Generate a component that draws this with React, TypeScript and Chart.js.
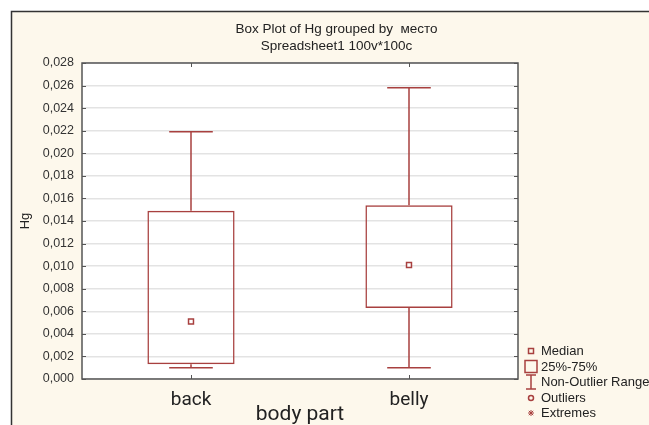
import React, { useEffect, useRef } from 'react';
import { Chart, registerables } from 'chart.js';

Chart.register(...registerables);

const categories = ['back', 'belly'];
const mins = [0.001, 0.001];
const q1s = [0.0013, 0.0063];
const medians = [0.0051, 0.0101];
const q3s = [0.0149, 0.0154];
const maxs = [0.0219, 0.0258];

const titleLines = ['Box Plot of Hg grouped by  место', 'Spreadsheet1 100v*100c'];
const yTitle = 'Hg';
const xTitle = 'body part';
const legendLabels = ['Median', '25%-75%', 'Non-Outlier Range', 'Outliers', 'Extremes'];
const yMin = 0;
const yMax = 0.028;
const yStep = 0.002;

const RED = '#a8403f';
const FRAME = '#555555';
const ARIAL = '"Liberation Sans", Arial, sans-serif';
const ROBOTO = 'Roboto, "Noto Sans", sans-serif';

const decorPlugin = {
  id: 'decor',
  beforeDraw(chart: any) {
    const { ctx, chartArea: a, width, height } = chart;
    ctx.save();
    ctx.fillStyle = '#ffffff';
    ctx.fillRect(0, 0, width, height);
    ctx.fillStyle = '#fdf8ec';
    ctx.fillRect(11, 11, width - 11, height - 11);
    ctx.strokeStyle = '#333333';
    ctx.lineWidth = 1.5;
    ctx.beginPath();
    ctx.moveTo(11.5, height);
    ctx.lineTo(11.5, 11.5);
    ctx.lineTo(width, 11.5);
    ctx.stroke();
    ctx.fillStyle = '#ffffff';
    ctx.fillRect(a.left, a.top, a.right - a.left, a.bottom - a.top);
    ctx.restore();
  },
  beforeDatasetsDraw(chart: any) {
    const { ctx } = chart;
    const x = chart.scales.x;
    const y = chart.scales.y;
    const meta = chart.getDatasetMeta(0);
    ctx.save();
    ctx.strokeStyle = RED;
    ctx.lineWidth = 1.5;
    categories.forEach((_, i) => {
      const cx = x.getPixelForValue(i);
      const bw = meta.data[i] ? meta.data[i].width : 80;
      const half = bw / 4;
      const pMin = y.getPixelForValue(mins[i]);
      const pMax = y.getPixelForValue(maxs[i]);
      const pQ1 = y.getPixelForValue(q1s[i]);
      const pQ3 = y.getPixelForValue(q3s[i]);
      ctx.beginPath();
      ctx.moveTo(cx, pQ3);
      ctx.lineTo(cx, pMax);
      ctx.moveTo(cx - half, pMax);
      ctx.lineTo(cx + half, pMax);
      ctx.moveTo(cx, pQ1);
      ctx.lineTo(cx, pMin);
      ctx.moveTo(cx - half, pMin);
      ctx.lineTo(cx + half, pMin);
      ctx.stroke();
    });
    ctx.restore();
  },
  afterDraw(chart: any) {
    const { ctx, chartArea: a } = chart;
    const x = chart.scales.x;
    const y = chart.scales.y;
    ctx.save();
    // plot frame
    ctx.strokeStyle = FRAME;
    ctx.lineWidth = 1.5;
    ctx.strokeRect(a.left, a.top, a.right - a.left, a.bottom - a.top);
    // inner tick marks
    ctx.lineWidth = 1;
    ctx.beginPath();
    y.ticks.forEach((t: any) => {
      const py = Math.round(y.getPixelForValue(t.value)) + 0.5;
      ctx.moveTo(a.left, py);
      ctx.lineTo(a.left + 4, py);
      ctx.moveTo(a.right - 4, py);
      ctx.lineTo(a.right, py);
    });
    categories.forEach((_, i) => {
      const px = Math.round(x.getPixelForValue(i)) + 0.5;
      ctx.moveTo(px, a.top);
      ctx.lineTo(px, a.top + 4);
      ctx.moveTo(px, a.bottom - 4);
      ctx.lineTo(px, a.bottom);
    });
    ctx.stroke();

    // title
    ctx.fillStyle = '#222222';
    ctx.font = `13.5px ${ARIAL}`;
    ctx.textAlign = 'center';
    ctx.textBaseline = 'middle';
    ctx.fillText(titleLines[0], 336.5, 29.5);
    ctx.fillText(titleLines[1], 336.5, 46.5);

    // legend
    const lx = 531;
    const tx = 541;
    const rows = [351, 366.5, 382, 398, 413];
    ctx.textAlign = 'left';
    ctx.font = `13px ${ARIAL}`;
    legendLabels.forEach((lab, i) => {
      ctx.fillStyle = '#222222';
      ctx.fillText(lab, tx, rows[i] + 0.5);
    });
    ctx.strokeStyle = RED;
    ctx.lineWidth = 1.5;
    // median
    ctx.strokeRect(lx - 2.5, rows[0] - 2.5, 5, 5);
    // box
    ctx.strokeRect(lx - 6, rows[1] - 6, 12, 12);
    // non-outlier range
    ctx.beginPath();
    ctx.moveTo(lx - 5, rows[2] - 7);
    ctx.lineTo(lx + 5, rows[2] - 7);
    ctx.moveTo(lx, rows[2] - 7);
    ctx.lineTo(lx, rows[2] + 7);
    ctx.moveTo(lx - 5, rows[2] + 7);
    ctx.lineTo(lx + 5, rows[2] + 7);
    ctx.stroke();
    // outliers
    ctx.beginPath();
    ctx.arc(lx, rows[3], 2.5, 0, Math.PI * 2);
    ctx.stroke();
    // extremes
    ctx.lineWidth = 1;
    ctx.beginPath();
    ctx.moveTo(lx - 3, rows[4]);
    ctx.lineTo(lx + 3, rows[4]);
    ctx.moveTo(lx - 2.2, rows[4] - 2.2);
    ctx.lineTo(lx + 2.2, rows[4] + 2.2);
    ctx.moveTo(lx - 2.2, rows[4] + 2.2);
    ctx.lineTo(lx + 2.2, rows[4] - 2.2);
    ctx.moveTo(lx, rows[4] - 3);
    ctx.lineTo(lx, rows[4] + 3);
    ctx.stroke();
    ctx.restore();
  },
};

export default function App() {
  const ref = useRef<HTMLCanvasElement | null>(null);

  useEffect(() => {
    if (!ref.current) return;
    const chart = new Chart(ref.current, {
      type: 'bar',
      data: {
        labels: categories,
        datasets: [
          {
            type: 'bar',
            label: '25%-75%',
            data: categories.map((_, i) => [q1s[i], q3s[i]]) as any,
            backgroundColor: 'rgba(255,255,255,0)',
            borderColor: RED,
            borderWidth: 1.5,
            borderSkipped: false,
            barPercentage: 0.4,
            categoryPercentage: 1.0,
          } as any,
          {
            type: 'line',
            label: 'Median',
            data: medians,
            showLine: false,
            pointStyle: 'rect',
            pointRadius: 3.5,
            pointBorderWidth: 1.5,
            pointBorderColor: RED,
            pointBackgroundColor: '#ffffff',
          } as any,
        ],
      },
      options: {
        responsive: false,
        animation: false,
        devicePixelRatio: 1,
        layout: { padding: { left: 11, top: 63, right: 131, bottom: 0 } },
        plugins: {
          legend: { display: false },
          tooltip: { enabled: false },
          title: { display: false },
        },
        scales: {
          x: {
            grid: { display: false, drawTicks: false },
            border: { display: false },
            ticks: {
              color: '#222222',
              font: { family: ROBOTO, size: 19 },
              padding: 10,
            },
            title: {
              display: true,
              text: xTitle,
              color: '#222222',
              font: { family: ROBOTO, size: 21 },
              padding: { top: 0, bottom: -2 },
            },
            afterFit: (s: any) => {
              s.height = 46;
            },
          },
          y: {
            min: yMin,
            max: yMax,
            grid: {
              drawTicks: false,
              color: '#e3e3e3',
              lineWidth: 1.5,
            },
            border: { display: false },
            ticks: {
              stepSize: yStep,
              color: '#333333',
              font: { family: ARIAL, size: 12.5 },
              padding: 8,
              callback: (v: any) => Number(v).toFixed(3).replace('.', ','),
            },
            title: {
              display: true,
              text: yTitle,
              color: '#222222',
              font: { family: ARIAL, size: 13 },
              padding: { top: 7, bottom: 0 },
            },
            afterFit: (s: any) => {
              s.width = 71;
            },
          },
        },
      } as any,
      plugins: [decorPlugin],
    });
    return () => chart.destroy();
  }, []);

  return (
    <div style={{ position: 'absolute', left: 0, top: 0, width: 649, height: 425 }}>
      <canvas ref={ref} width={649} height={425} style={{ display: 'block' }} />
    </div>
  );
}
